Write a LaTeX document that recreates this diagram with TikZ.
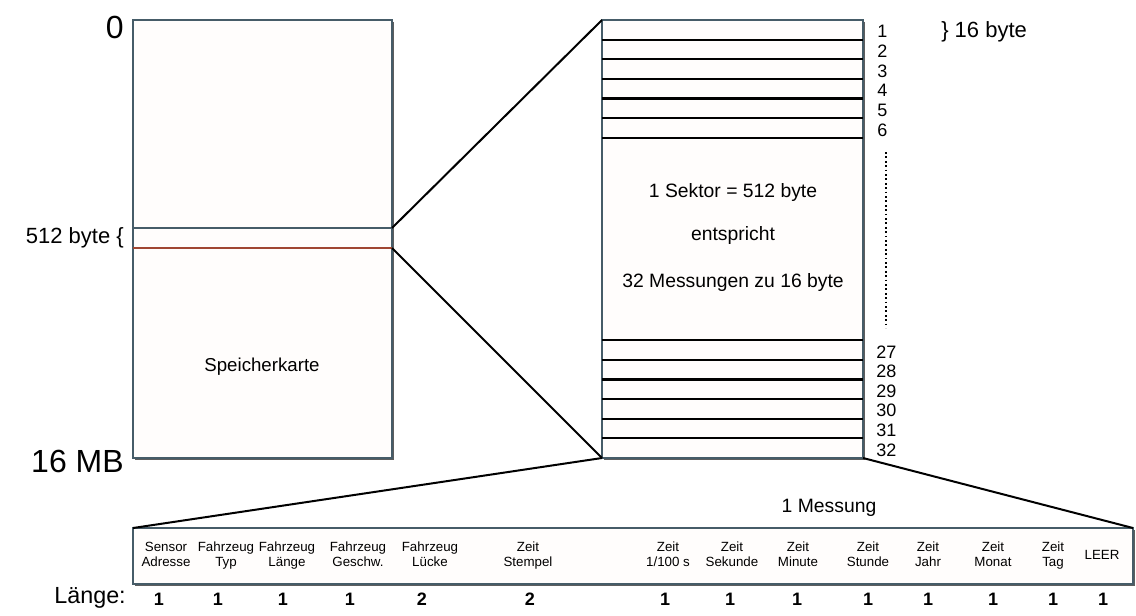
\documentclass[tikz,border=0pt]{standalone}
\usepackage{fontspec}
\setmainfont{Liberation Sans}
\usepackage{xcolor}
\usepackage{tikz}
\usetikzlibrary{shadows,calc}

\definecolor{rand}{RGB}{70,92,104}
\definecolor{rot}{RGB}{160,70,50}
\definecolor{papier}{RGB}{255,253,252}

\begin{document}
\begin{tikzpicture}[x=0.75pt, y=-0.75pt,
  box/.style={draw=rand, fill=papier, line width=0.8pt, inner sep=0pt,
    outer sep=0pt, anchor=north west,
    drop shadow={shadow xshift=1.6pt, shadow yshift=-1.6pt, fill=black!70, opacity=0.9}},
  zoom/.style={line width=1.5pt, black},
  trenn/.style={line width=1.7pt, black},
  nr/.style={font=\fontsize{13.5}{14}\selectfont, anchor=west, inner sep=0pt},
  feld/.style={font=\fontsize{10}{11.3}\selectfont, inner sep=0pt},
  wert/.style={font=\fontsize{13.5}{14}\selectfont\bfseries, inner sep=0pt},
  gross/.style={font=\fontsize{24}{26}\selectfont, anchor=east, inner sep=0pt},
  mittel/.style={font=\fontsize{16.5}{18}\selectfont, inner sep=0pt},
  txt/.style={font=\fontsize{14.5}{16}\selectfont, inner sep=0pt},
]
\useasboundingbox (0,0) rectangle (1136,615);

% Speicherkarte
\node[box, minimum width=194.25pt, minimum height=328.5pt] (karte) at (133,20) {};
\node[txt, font=\fontsize{14}{16}\selectfont] (sk) at (262,367) {Speicherkarte};
\coordinate (bo) at (karte.east |- 0,228);
\coordinate (bu) at (karte.east |- 0,248);
\draw[rand, line width=0.8pt] (karte.west |- bo) -- (bo);
\draw[rot, line width=0.8pt] (karte.west |- bu) -- (bu);
\node[gross] (null) at (124,27) {0};
\node[gross] (ende) at (124,461) {16 MB};
\node[mittel, anchor=east] (sekb) at (124,238) {512 byte \{};

% Sektor
\node[box, minimum width=195.75pt, minimum height=328.5pt] (sektor) at (602,20) {};
\foreach \k in {1,...,6} {
  \draw[trenn] ($(sektor.north west)+(0,19.65*\k)$) -- ($(sektor.north east)+(0,19.65*\k)$);
  \draw[trenn] ($(sektor.south west)-(0,19.65*\k)$) -- ($(sektor.south east)-(0,19.65*\k)$);
  \node[nr] (n\k) at (877,{31.6+19.65*(\k-1)}) {\k};
}
\foreach \k in {27,...,32}
  \node[nr] (n\k) at (876,{450-19.65*(32-\k)}) {\k};
\draw[dotted, line width=1.3pt] (886,152) -- (886,328);
\node[mittel, anchor=west] (messb) at (941,32) {\}\ 16 byte};
\node[txt] (t1) at (733,192) {1 Sektor = 512 byte};
\node[txt] (t2) at (733,235) {entspricht};
\node[txt] (t3) at (733,282) {32 Messungen zu 16 byte};

% Messung
\node[box, minimum width=750pt, minimum height=42pt] (messung) at (133,528) {};
\node[txt] (titel) at (829,508) {1 Messung};
\node[font=\fontsize{17.5}{18}\selectfont, anchor=east, inner sep=0pt] (laenge) at (126,598) {Länge:};
\foreach \x/\t/\y/\v [count=\i] in {
    166/{Sensor\\Adresse}/159/1, 226/{Fahrzeug\\Typ}/218/1,
    287/{Fahrzeug\\Länge}/283/1, 358/{Fahrzeug\\Geschw.}/350/1,
    430/{Fahrzeug\\Lücke}/422/2, 528/{Zeit\\Stempel}/530/2,
    668/{Zeit\\1/100 s}/665/1, 732/{Zeit\\Sekunde}/730/1,
    798/{Zeit\\Minute}/797/1, 868/{Zeit\\Stunde}/868/1,
    928/{Zeit\\Jahr}/928/1, 993/{Zeit\\Monat}/993/1,
    1053/{Zeit\\Tag}/1053/1, 1102/{LEER}/1103/1} {
  \node[feld] (f\i) at (\x,556) {\begin{tabular}{@{}c@{}}\t\end{tabular}};
  \node[wert] (w\i) at (\y,599) {\v};
}

% Vergroesserung
\draw[zoom] (bo) -- (sektor.north west);
\draw[zoom] (bu) -- (sektor.south west);
\draw[zoom] (sektor.south west) -- (messung.north west);
\draw[zoom] (sektor.south east) -- (messung.north east);
\end{tikzpicture}
\end{document}
